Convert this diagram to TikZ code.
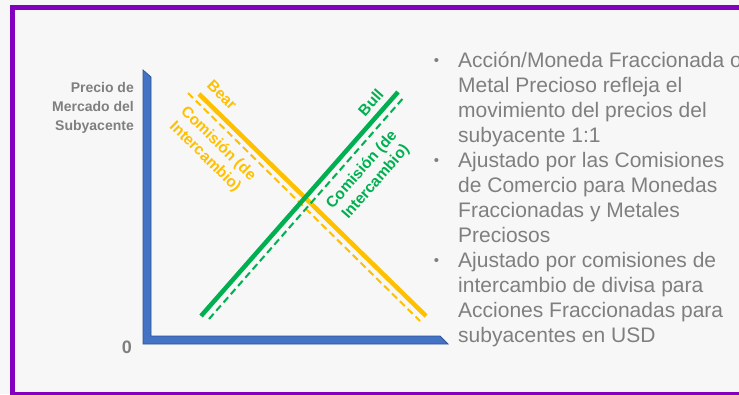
\documentclass[tikz,border=0pt]{standalone}
\usepackage{fontspec}
\setmainfont{Liberation Sans}
\definecolor{bgc}{HTML}{F7F7F7}
\definecolor{purp}{HTML}{8400BF}
\definecolor{axblue}{HTML}{4472C4}
\definecolor{axdark}{HTML}{2F5597}
\definecolor{txtgray}{HTML}{7F7F7F}
\definecolor{gold}{HTML}{FFC000}
\definecolor{grn}{HTML}{00B050}
\tikzset{
  axislab/.style={font=\bfseries\fontsize{14}{19}\selectfont, text=txtgray, inner sep=0pt},
  rotlab/.style={font=\bfseries\fontsize{15.5}{18.5}\selectfont, inner sep=0pt, align=center},
  bodyline/.style={font=\fontsize{21}{25}\selectfont, text=txtgray, inner sep=0pt, anchor=base west},
  bulletmark/.style={font=\fontsize{15}{15}\selectfont, text=txtgray, inner sep=0pt, anchor=base},
  solidline/.style={line width=4.5pt},
  dashline/.style={line width=2pt, dash pattern=on 7pt off 4pt},
}
\begin{document}
\begin{tikzpicture}[x=1pt,y=-1pt]
\useasboundingbox (0,0) rectangle (739,394);
\clip (0,0) rectangle (739,394);
\fill[bgc] (0,0) rectangle (739,394);
\draw[purp, line width=5pt] (12.5,7.5) rectangle (800,394.5);

% axes
\filldraw[fill=axblue, draw=axdark, line width=0.8pt, line join=miter]
  (143,70) -- (151,77) -- (151,336) -- (440,336) -- (448,344) -- (143,344) -- cycle;

% axis labels
\node[axislab, anchor=base east] (p1) at (134,92) {Precio de};
\node[axislab, anchor=base east] (p2) at (134,111) {Mercado del};
\node[axislab, anchor=base east] (p3) at (134,130) {Subyacente};
\node[font=\bfseries\fontsize{18}{18}\selectfont, text=txtgray, inner sep=0pt] (zero) at (127,347) {0};

% lines
\coordinate (gs1) at (201,316);
\coordinate (gs2) at (398,92);
\coordinate (gd1) at (209,319);
\coordinate (gd2) at (405,96);
\coordinate (os1) at (199,94);
\coordinate (os2) at (426,316);
\coordinate (od1) at (188,93);
\coordinate (od2) at (420,321);
\draw[gold, dashline] (od1) -- (od2);
\draw[gold, solidline] (os1) -- (os2);
\draw[grn, dashline] (gd1) -- (gd2);
\draw[grn, solidline] (gs1) -- (gs2);

% line labels
\node[rotlab, text=gold, rotate=-44.4] (bear) at (222,95) {Bear};
\node[rotlab, text=gold, rotate=-44.4] (ocom) at (211.5,150.5) {Comisión (de\\Intercambio)};
\node[rotlab, text=grn, rotate=48.7] (bull) at (370.7,102.7) {Bull};
\node[rotlab, text=grn, rotate=48.7] (gcom) at (369,176) {Comisión (de\\Intercambio)};

% bullets
\node[bulletmark] (b1) at (436.5,65) {•};
\node[bulletmark] (b2) at (436.5,165) {•};
\node[bulletmark] (b3) at (436.5,265) {•};

\node[bodyline] (l1) at (458,67) {Acción/Moneda Fraccionada o};
\node[bodyline] (l2) at (458,92) {Metal Precioso refleja el};
\node[bodyline] (l3) at (458,117) {movimiento del precios del};
\node[bodyline] (l4) at (458,142) {subyacente 1:1};
\node[bodyline] (l5) at (458,167) {Ajustado por las Comisiones};
\node[bodyline] (l6) at (458,192) {de Comercio para Monedas};
\node[bodyline] (l7) at (458,217) {Fraccionadas y Metales};
\node[bodyline] (l8) at (458,242) {Preciosos};
\node[bodyline] (l9) at (458,267) {Ajustado por comisiones de};
\node[bodyline] (l10) at (458,292) {intercambio de divisa para};
\node[bodyline] (l11) at (458,317) {Acciones Fraccionadas para};
\node[bodyline] (l12) at (458,342) {subyacentes en USD};
\end{tikzpicture}
\end{document}
